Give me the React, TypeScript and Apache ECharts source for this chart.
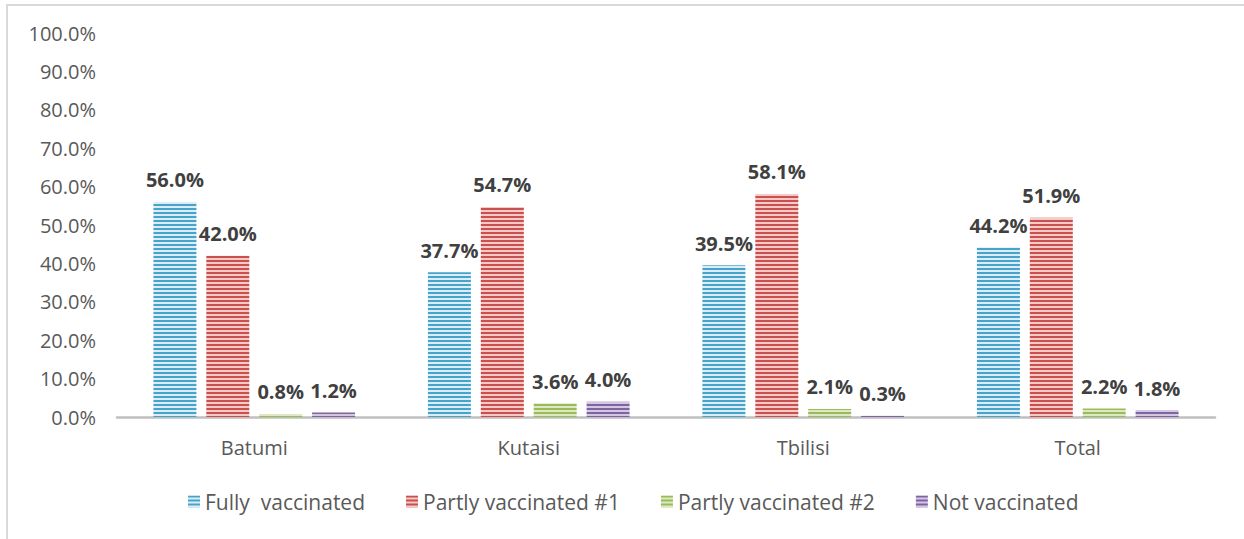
import React, { useEffect, useRef } from "react";
import * as echarts from "echarts";

const categories = ["Batumi", "Kutaisi", "Tbilisi", "Total"];
const seriesNames = ["Fully  vaccinated", "Partly vaccinated #1", "Partly vaccinated #2", "Not vaccinated"];
const fullyVaccinated = [56.0, 37.7, 39.5, 44.2];
const partlyVaccinated1 = [42.0, 54.7, 58.1, 51.9];
const partlyVaccinated2 = [0.8, 3.6, 2.1, 2.2];
const notVaccinated = [1.2, 4.0, 0.3, 1.8];
const yTicks = [0, 10, 20, 30, 40, 50, 60, 70, 80, 90, 100];

// stripe colours: [solid line, light line]
const stripeColors: [string, string][] = [
  ["#46A4CB", "#DDEDF7"],
  ["#C9504E", "#F2CAC8"],
  ["#9BBB59", "#DCE9C4"],
  ["#8064A2", "#D3C8E1"],
];

function stripePattern(solid: string, light: string) {
  const c = document.createElement("canvas");
  c.width = 4;
  c.height = 4;
  const ctx = c.getContext("2d")!;
  ctx.fillStyle = light;
  ctx.fillRect(0, 0, 4, 4);
  ctx.fillStyle = solid;
  ctx.fillRect(0, 0, 4, 2);
  return { image: c, repeat: "repeat" as const };
}

export default function App() {
  const ref = useRef<HTMLDivElement>(null);

  useEffect(() => {
    if (!ref.current) return;
    const chart = echarts.init(ref.current, null, { renderer: "svg" });
    const values = [fullyVaccinated, partlyVaccinated1, partlyVaccinated2, notVaccinated];

    chart.setOption({
      animation: false,
      textStyle: { fontFamily: "Open Sans" },
      graphic: [
        {
          type: "rect",
          shape: { x: 7, y: 5, width: 1400, height: 700 },
          style: { fill: "none", stroke: "#D9D9D9", lineWidth: 2 },
          silent: true,
        },
      ],
      grid: { left: 117, right: 29, top: 33, bottom: 122 },
      legend: {
        data: seriesNames,
        bottom: 22,
        left: 183,
        icon: "rect",
        itemWidth: 12,
        itemHeight: 12,
        itemGap: 41,
        textStyle: { color: "#595959", fontSize: 21, fontFamily: "Open Sans" },
      },
      xAxis: {
        type: "category",
        data: categories,
        axisLine: { show: true, lineStyle: { color: "#BFBFBF", width: 2.5 } },
        axisTick: { show: false },
        axisLabel: { color: "#595959", fontSize: 20, margin: 20, fontFamily: "Open Sans" },
      },
      yAxis: {
        type: "value",
        min: yTicks[0],
        max: yTicks[yTicks.length - 1],
        interval: 10,
        axisLine: { show: false },
        axisTick: { show: false },
        splitLine: { show: false },
        axisLabel: {
          color: "#595959",
          fontSize: 20,
          margin: 21,
          fontFamily: "Open Sans",
          formatter: (v: number) => v.toFixed(1) + "%",
        },
      },
      series: seriesNames.map((name, i) => ({
        name,
        type: "bar",
        data: values[i],
        barWidth: 43,
        barGap: "23%",
        itemStyle: { color: stripePattern(stripeColors[i][0], stripeColors[i][1]) },
        label: {
          show: true,
          position: "top",
          distance: 12,
          color: "#404040",
          fontSize: 20,
          fontWeight: "bold",
          fontFamily: "Open Sans",
          formatter: (p: any) => Number(p.value).toFixed(1) + "%",
        },
      })),
    });

    return () => chart.dispose();
  }, []);

  return (
    <div
      ref={ref}
      style={{ position: "fixed", left: 0, top: 0, width: 1244, height: 539, background: "#fff" }}
    />
  );
}
